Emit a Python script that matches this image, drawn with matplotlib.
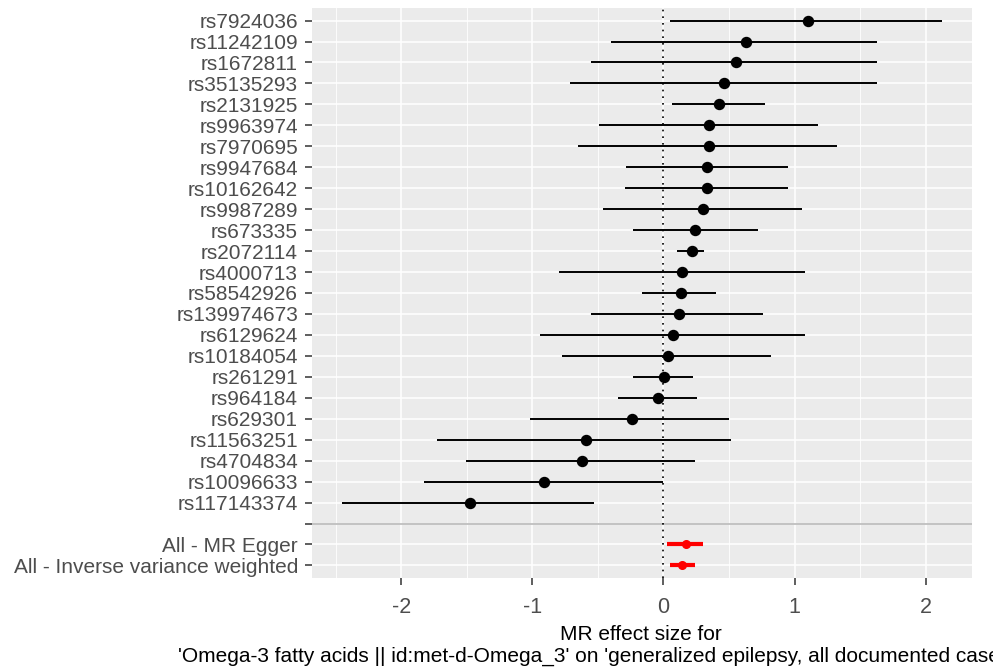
import matplotlib
matplotlib.use("Agg")
import matplotlib.pyplot as plt
from matplotlib.ticker import MultipleLocator

plt.rcParams['font.family'] = ['Liberation Sans', 'DejaVu Sans']
plt.rcParams['axes.unicode_minus'] = False

snps = ["rs7924036", "rs11242109", "rs1672811", "rs35135293", "rs2131925",
        "rs9963974", "rs7970695", "rs9947684", "rs10162642", "rs9987289",
        "rs673335", "rs2072114", "rs4000713", "rs58542926", "rs139974673",
        "rs6129624", "rs10184054", "rs261291", "rs964184", "rs629301",
        "rs11563251", "rs4704834", "rs10096633", "rs117143374"]
snp_b = [1.104, 0.626, 0.552, 0.465, 0.421, 0.347, 0.347, 0.331, 0.331, 0.305,
         0.244, 0.215, 0.144, 0.132, 0.119, 0.074, 0.032, 0.003, -0.042, -0.241,
         -0.591, -0.620, -0.912, -1.477]
snp_lo = [0.051, -0.398, -0.555, -0.713, 0.067, -0.494, -0.655, -0.283, -0.295, -0.465,
          -0.234, 0.100, -0.799, -0.164, -0.555, -0.944, -0.774, -0.234, -0.350, -1.018,
          -1.727, -1.509, -1.830, -2.453]
snp_hi = [2.125, 1.631, 1.631, 1.631, 0.774, 1.181, 1.326, 0.950, 0.950, 1.053,
          0.719, 0.308, 1.079, 0.398, 0.758, 1.079, 0.819, 0.228, 0.254, 0.501,
          0.514, 0.241, -0.006, -0.533]

methods = ["All - MR Egger", "All - Inverse variance weighted"]
meth_b = [0.173, 0.144]
meth_lo = [0.026, 0.051]
meth_hi = [0.299, 0.241]

labels = snps + [""] + methods
n = len(labels)
pos = {lab: i for i, lab in enumerate(labels)}

FS = 15

W, H = 993, 671
fig = plt.figure(figsize=(W / 100, H / 100), dpi=100)
ax = fig.add_axes([312 / W, 1 - 578 / H, (972 - 312) / W, (578 - 8) / H])
ax.set_facecolor("#EBEBEB")

allv = snp_lo + snp_hi + meth_lo + meth_hi
lo, hi = min(allv), max(allv)
pad = 0.05 * (hi - lo)
ax.set_xlim(lo - pad, hi + pad)
ax.set_ylim(n - 1 + 0.6, -0.6)

ax.xaxis.set_major_locator(MultipleLocator(1))
ax.xaxis.set_minor_locator(MultipleLocator(0.5))
ax.set_yticks(range(n))
ax.set_yticklabels(labels)
ax.grid(which="major", axis="both", color="white", linewidth=1.1)
ax.grid(which="minor", axis="x", color="white", linewidth=0.6)
ax.set_axisbelow(True)
for s in ax.spines.values():
    s.set_visible(False)

ax.tick_params(axis="both", which="major", length=5, width=1.1, color="#333333",
               labelcolor="#4D4D4D", labelsize=FS)
ax.tick_params(axis="y", which="major", pad=5)
ax.tick_params(axis="x", which="major", pad=9, labelsize=15.5)
ax.tick_params(axis="both", which="minor", length=0)

# blank separator row line
ax.axhline(pos[""], color="#BEBEBE", linewidth=1.3, zorder=1)
# zero line
ax.axvline(0, color="black", linestyle=(0, (1, 3)), linewidth=1.2, zorder=2)

ys = [pos[s] for s in snps]
ax.hlines(ys, snp_lo, snp_hi, color="black", linewidth=1.4, zorder=3)
ax.plot(snp_b, ys, "o", color="black", markersize=7.2, zorder=4)

ym = [pos[m] for m in methods]
ax.hlines(ym, meth_lo, meth_hi, color="red", linewidth=3.0, zorder=3)
ax.plot(meth_b, ym, "o", color="red", markersize=5.5, zorder=4)

fig.text(641 / W, 1 - 634 / H, "MR effect size for", ha="center", va="center",
         fontsize=FS, color="black")
fig.text(178 / W, 1 - 656 / H,
         "'Omega-3 fatty acids || id:met-d-Omega_3' on 'generalized epilepsy, all documented cases'",
         ha="left", va="center", fontsize=FS, color="black")

fig.savefig("out.png", dpi=100)
